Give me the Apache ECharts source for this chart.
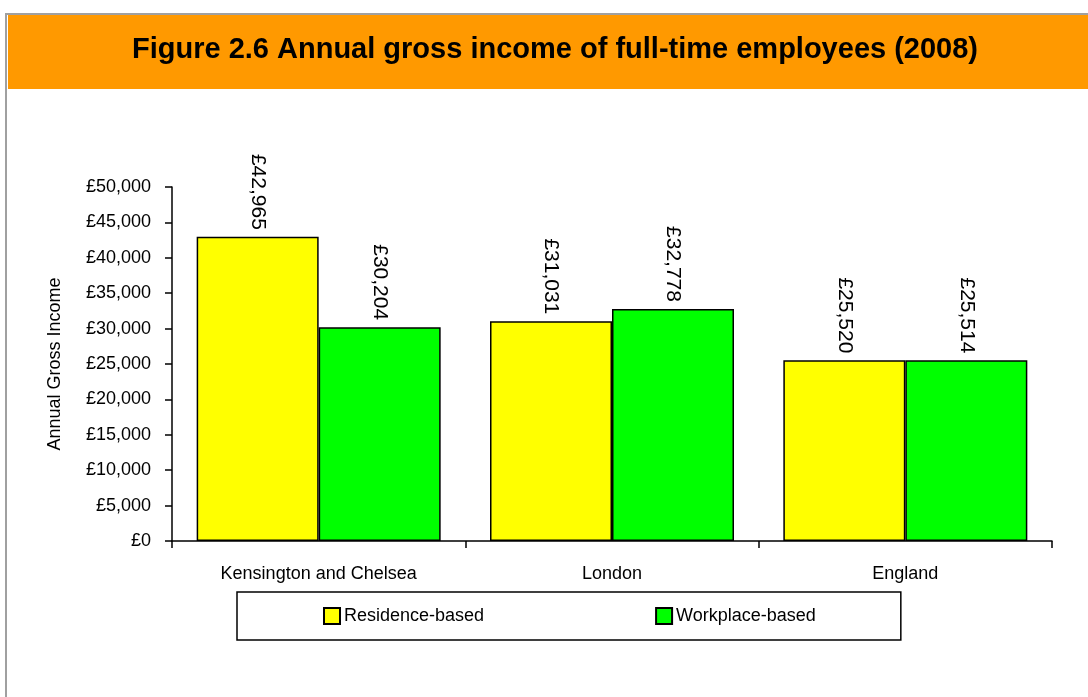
<!DOCTYPE html>
<html>
<head>
<meta charset="utf-8">
<script src="https://cdn.jsdelivr.net/npm/echarts@6/dist/echarts.min.js"></script>
<style>
html,body{margin:0;padding:0;background:#fff;}
#chart{width:1088px;height:697px;}
</style>
</head>
<body>
<div id="chart"></div>
<script>
const categories = ['Kensington and Chelsea', 'London', 'England'];
const residenceBased = [42965, 31031, 25520];
const workplaceBased = [30204, 32778, 25514];
const seriesNames = ['Residence-based', 'Workplace-based'];
const titleText = 'Figure 2.6 Annual gross income of full-time employees (2008)';
const yAxisName = 'Annual Gross Income';

const FONT = '"Liberation Sans", Arial, sans-serif';
const fmt = v => '£' + Number(v).toLocaleString('en-GB');

const chart = echarts.init(document.getElementById('chart'));
const labelCfg = {
  show: true, position: 'top', rotate: -90, align: 'right', verticalAlign: 'middle',
  distance: 7, fontFamily: FONT, fontSize: 21, color: '#000',
  formatter: p => fmt(p.value)
};
chart.setOption({
  backgroundColor: '#ffffff',
  animation: false,
  graphic: [
    { type: 'rect', left: 5, top: 13, shape: { width: 1083, height: 2 }, style: { fill: '#a0a0a0' }, silent: true },
    { type: 'rect', left: 5, top: 13, shape: { width: 2, height: 684 }, style: { fill: '#a0a0a0' }, silent: true },
    { type: 'rect', left: 8, top: 15, shape: { width: 1080, height: 74 }, style: { fill: '#ff9900' }, silent: true },
    { type: 'text', x: 555, y: 50, style: { text: titleText, font: 'bold 29px "Liberation Sans", Arial, sans-serif', fill: '#000', align: 'center', verticalAlign: 'middle' }, silent: true }
  ],
  grid: { left: 172, right: 36, top: 187, bottom: 156, containLabel: false },
  legend: {
    data: seriesNames,
    left: 237, top: 592,
    orient: 'horizontal',
    itemWidth: 16, itemHeight: 16, itemGap: 171,
    padding: [15, 85, 15, 86],
    borderColor: '#000', borderWidth: 1.5,
    icon: 'rect',
    textStyle: { fontFamily: FONT, fontSize: 18, color: '#000', padding: [0, 0, 0, -1] }
  },
  xAxis: {
    type: 'category',
    data: categories,
    axisLine: { lineStyle: { color: '#000', width: 1.5 } },
    axisTick: { show: true, length: 7, lineStyle: { color: '#000', width: 1.5 } },
    axisLabel: { margin: 24, fontFamily: FONT, fontSize: 18, color: '#000' }
  },
  yAxis: {
    type: 'value',
    min: 0, max: 50000, interval: 5000,
    name: yAxisName, nameLocation: 'middle', nameGap: 108, nameRotate: 90,
    nameTextStyle: { fontFamily: FONT, fontSize: 18, color: '#000' },
    axisLine: { show: true, lineStyle: { color: '#000', width: 1.5 } },
    axisTick: { show: true, length: 7, lineStyle: { color: '#000', width: 1.5 } },
    splitLine: { show: false },
    axisLabel: { margin: 21, fontFamily: FONT, fontSize: 18, color: '#000', formatter: fmt }
  },
  series: [
    { name: seriesNames[0], type: 'bar', data: residenceBased, barWidth: 122, barGap: '0%',
      itemStyle: { color: '#ffff00', borderColor: '#000', borderWidth: 1.5 }, label: labelCfg },
    { name: seriesNames[1], type: 'bar', data: workplaceBased, barWidth: 122, barGap: '0%',
      itemStyle: { color: '#00ff00', borderColor: '#000', borderWidth: 1.5 }, label: labelCfg }
  ]
});
</script>
</body>
</html>
